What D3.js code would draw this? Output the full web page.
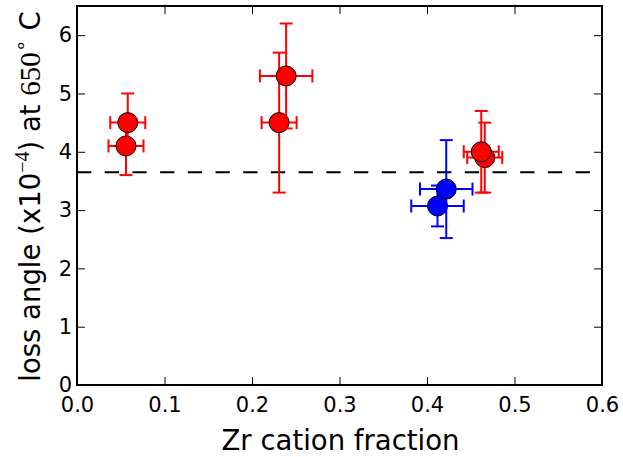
<!DOCTYPE html>
<html>
<head>
<meta charset="utf-8">
<script src="https://cdn.jsdelivr.net/npm/d3@7"></script>
<style>
  html, body { margin: 0; padding: 0; background: #fff; }
  svg { display: block; }
  text { font-family: "DejaVu Sans", sans-serif; fill: #000; }
</style>
</head>
<body>
<svg id="chart" width="623" height="457"></svg>
<script>
// ---- data ----
const zrFraction = [0.056, 0.058, 0.231, 0.239, 0.466, 0.462, 0.412, 0.422];
const lossAngle  = [4.10, 4.50, 4.50, 5.30, 3.90, 4.00, 3.07, 3.36];
const lossErr    = [0.50, 0.50, 1.20, 0.90, 0.60, 0.70, 0.35, 0.84];
const zrErr      = [0.020, 0.020, 0.020, 0.030, 0.020, 0.020, 0.030, 0.030];
const pointColor = ["red", "red", "red", "red", "red", "red", "blue", "blue"];
const referenceLoss = 3.65;
const xTicks = [0.0, 0.1, 0.2, 0.3, 0.4, 0.5, 0.6];
const yTicks = [0, 1, 2, 3, 4, 5, 6];

const colors = { red: "#ff0000", blue: "#0000ff" };

const svg = d3.select("#chart");
const M = { left: 77, right: 602, top: 6, bottom: 385 };

const x = d3.scaleLinear().domain([0, 0.6]).range([M.left, M.right]);
const y = d3.scaleLinear().domain([0, 6.5]).range([M.bottom, M.top]);

// axes with inward ticks
const tickLen = 8;
const gx = svg.append("g").attr("transform", `translate(0,${M.bottom})`)
  .call(d3.axisBottom(x).tickValues(xTicks).tickFormat(d3.format(".1f"))
        .tickSizeInner(-tickLen).tickSizeOuter(0).tickPadding(12));
const gxTop = svg.append("g").attr("transform", `translate(0,${M.top})`)
  .call(d3.axisTop(x).tickValues(xTicks).tickFormat("").tickSizeInner(-tickLen).tickSizeOuter(0));
const gy = svg.append("g").attr("transform", `translate(${M.left},0)`)
  .call(d3.axisLeft(y).tickValues(yTicks).tickFormat(d3.format("d"))
        .tickSizeInner(-tickLen).tickSizeOuter(0).tickPadding(5));
const gyR = svg.append("g").attr("transform", `translate(${M.right},0)`)
  .call(d3.axisRight(y).tickValues(yTicks).tickFormat("").tickSizeInner(-tickLen).tickSizeOuter(0));

[gx, gxTop, gy, gyR].forEach(g => {
  g.select(".domain").remove();
  g.selectAll(".tick line").attr("stroke", "#000").attr("stroke-width", 1);
  g.selectAll(".tick text").attr("font-family", "DejaVu Sans").attr("font-size", 21).attr("fill", "#000");
});
// remove end ticks that coincide with frame
gx.selectAll(".tick").filter(d => d === 0 || d === 0.6).select("line").remove();
gxTop.selectAll(".tick").filter(d => d === 0 || d === 0.6).select("line").remove();
gy.selectAll(".tick").filter(d => d === 0).select("line").remove();
gyR.selectAll(".tick").filter(d => d === 0).select("line").remove();

// dashed reference line
svg.append("line")
  .attr("x1", x(0)).attr("x2", x(0.6))
  .attr("y1", y(referenceLoss)).attr("y2", y(referenceLoss))
  .attr("stroke", "#000").attr("stroke-width", 2)
  .attr("stroke-dasharray", "14.3,13.4");

// points with error bars
const cap = 6.5;
const pts = zrFraction.map((v, i) => ({ zr: v, loss: lossAngle[i], ey: lossErr[i], ex: zrErr[i], c: colors[pointColor[i]] }));
const gp = svg.append("g");
pts.forEach(p => {
  const g = gp.append("g");
  const cx = x(p.zr), cy = y(p.loss);
  const y0 = y(p.loss - p.ey), y1 = y(p.loss + p.ey);
  const x0 = x(p.zr - p.ex), x1 = x(p.zr + p.ex);
  const seg = (a, b, c, d) => g.append("line").attr("x1", a).attr("y1", b).attr("x2", c).attr("y2", d)
      .attr("stroke", p.c).attr("stroke-width", 2);
  seg(cx, y0, cx, y1);
  seg(cx - cap, y0, cx + cap, y0);
  seg(cx - cap, y1, cx + cap, y1);
  seg(x0, cy, x1, cy);
  seg(x0, cy - cap, x0, cy + cap);
  seg(x1, cy - cap, x1, cy + cap);
  g.append("circle").attr("cx", cx).attr("cy", cy).attr("r", 10)
    .attr("fill", p.c).attr("stroke", "#000").attr("stroke-width", 1);
});

// frame
svg.append("rect")
  .attr("x", M.left).attr("y", M.top)
  .attr("width", M.right - M.left).attr("height", M.bottom - M.top)
  .attr("fill", "none").attr("stroke", "#000").attr("stroke-width", 2);

// axis titles
svg.append("text")
  .attr("x", (M.left + M.right) / 2 + 1).attr("y", 450)
  .attr("text-anchor", "middle").attr("font-size", 27.5)
  .text("Zr cation fraction");

const yl = svg.append("text")
  .attr("transform", `translate(40,${(M.top + M.bottom) / 2 + 1}) rotate(-90)`)
  .attr("text-anchor", "middle").attr("font-size", 27.5);
yl.append("tspan").text("loss angle (x10");
yl.append("tspan").attr("font-family", "Liberation Serif").attr("font-size", 20).attr("dy", -11).text("\u22124");
yl.append("tspan").attr("dy", 11).text(") at ");
yl.append("tspan").attr("font-family", "Liberation Serif").attr("font-size", 29).text("650");
yl.append("tspan").attr("font-family", "Liberation Serif").attr("font-size", 20).attr("dy", -12).text("\u2218");
yl.append("tspan").attr("dy", 12).text(" C");
</script>
</body>
</html>
